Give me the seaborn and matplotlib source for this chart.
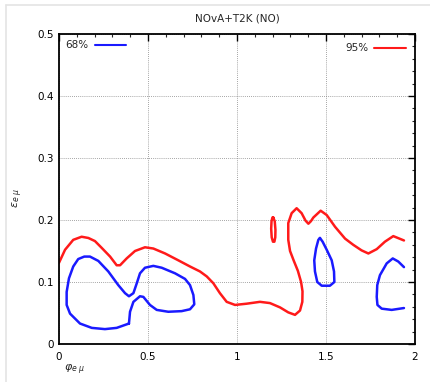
import matplotlib
matplotlib.use("Agg")
import matplotlib.pyplot as plt
import seaborn as sns
import pandas as pd
from matplotlib.lines import Line2D
from matplotlib.ticker import MultipleLocator

# ---- data ----
red_main_x = [0.000, 0.034, 0.080, 0.127, 0.165, 0.202, 0.240, 0.287, 0.324, 0.343, 0.380, 0.427,
              0.483, 0.530, 0.596, 0.670, 0.736, 0.792, 0.830, 0.867, 0.904, 0.942, 0.989, 1.054,
              1.129, 1.185, 1.242, 1.288, 1.326, 1.354, 1.367, 1.368, 1.360, 1.342, 1.318, 1.298,
              1.288, 1.288, 1.307, 1.335, 1.363, 1.385, 1.401, 1.415, 1.429, 1.470, 1.504, 1.551,
              1.607, 1.653, 1.700, 1.738, 1.785, 1.831, 1.878, 1.938]
red_main_y = [0.131, 0.152, 0.168, 0.173, 0.171, 0.166, 0.155, 0.141, 0.127, 0.127, 0.138, 0.150,
              0.156, 0.154, 0.146, 0.135, 0.125, 0.117, 0.109, 0.098, 0.082, 0.068, 0.063, 0.065,
              0.068, 0.066, 0.059, 0.051, 0.047, 0.054, 0.068, 0.085, 0.100, 0.118, 0.135, 0.150,
              0.168, 0.195, 0.211, 0.219, 0.211, 0.199, 0.194, 0.198, 0.204, 0.215, 0.208, 0.189,
              0.170, 0.160, 0.151, 0.146, 0.153, 0.165, 0.174, 0.167]

red_island_x = [1.204, 1.212, 1.216, 1.215, 1.210, 1.202, 1.195, 1.192, 1.194, 1.199, 1.204]
red_island_y = [0.204, 0.198, 0.184, 0.172, 0.165, 0.165, 0.172, 0.186, 0.198, 0.204, 0.204]

blue_left_x = [0.393, 0.399, 0.418, 0.455, 0.474, 0.511, 0.549, 0.614, 0.689, 0.736, 0.760, 0.755,
               0.736, 0.708, 0.652, 0.577, 0.530, 0.483, 0.455, 0.437, 0.418, 0.393, 0.371, 0.333,
               0.277, 0.221, 0.174, 0.142, 0.108, 0.080, 0.056, 0.043, 0.043, 0.062, 0.118, 0.184,
               0.258, 0.324, 0.393]
blue_left_y = [0.033, 0.052, 0.068, 0.077, 0.076, 0.063, 0.055, 0.052, 0.053, 0.056, 0.064, 0.079,
               0.095, 0.105, 0.114, 0.123, 0.126, 0.123, 0.114, 0.098, 0.082, 0.077, 0.082, 0.095,
               0.117, 0.134, 0.141, 0.141, 0.137, 0.125, 0.106, 0.084, 0.063, 0.049, 0.033, 0.026,
               0.024, 0.026, 0.033]

blue_mid_x = [1.466, 1.481, 1.504, 1.532, 1.545, 1.547, 1.522, 1.476, 1.451, 1.438, 1.434, 1.444,
              1.457, 1.466]
blue_mid_y = [0.171, 0.165, 0.152, 0.135, 0.117, 0.100, 0.094, 0.094, 0.100, 0.117, 0.135, 0.154,
              0.168, 0.171]

blue_right_x = [1.938, 1.906, 1.875, 1.841, 1.803, 1.788, 1.785, 1.789, 1.813, 1.869, 1.938]
blue_right_y = [0.124, 0.133, 0.138, 0.130, 0.111, 0.095, 0.076, 0.063, 0.057, 0.055, 0.058]

title = "NOvA+T2K (NO)"
x_ticks = [0, 0.5, 1, 1.5, 2]
x_tick_labels = ["0", "0.5", "1", "1.5", "2"]
y_ticks = [0, 0.1, 0.2, 0.3, 0.4, 0.5]
y_tick_labels = ["0", "0.1", "0.2", "0.3", "0.4", "0.5"]

sns.set_style("white")
plt.rcParams['font.family'] = ['DejaVu Sans']

fig = plt.figure(figsize=(4.3, 3.82), dpi=100)
ax = fig.add_axes([59/430, 1 - 344/382, 356/430, 310/382])

BLUE = "#1a1aff"
RED = "#ff1a1a"
curves = [
    (red_main_x, red_main_y, RED),
    (red_island_x, red_island_y, RED),
    (blue_left_x, blue_left_y, BLUE),
    (blue_mid_x, blue_mid_y, BLUE),
    (blue_right_x, blue_right_y, BLUE),
]
for xs, ys, c in curves:
    df = pd.DataFrame({"x": xs, "y": ys})
    sns.lineplot(data=df, x="x", y="y", sort=False, estimator=None, color=c, lw=1.8,
                 solid_joinstyle="round", solid_capstyle="round", ax=ax)

ax.set_xlim(0, 2)
ax.set_ylim(0, 0.5)
ax.set_xticks(x_ticks)
ax.set_xticklabels(x_tick_labels)
ax.set_yticks(y_ticks)
ax.set_yticklabels(y_tick_labels)
ax.xaxis.set_minor_locator(MultipleLocator(0.1))
ax.yaxis.set_minor_locator(MultipleLocator(0.02))
ax.tick_params(which="major", direction="in", length=5, width=1, top=True, right=True,
               labelsize=7.5, colors="black", pad=4)
ax.tick_params(which="minor", direction="in", length=2.5, width=0.8, top=True, right=True)
ax.tick_params(axis="x", which="major", pad=6)
ax.grid(True, which="major", color="#888888", linestyle=(0, (1, 1.5)), lw=0.6)
for s in ax.spines.values():
    s.set_visible(True)
    s.set_color("black")
    s.set_linewidth(1.3)

ax.set_xlabel(r"$\varphi_{e\ \mu}$", fontsize=8)
ax.xaxis.set_label_coords(0.045, -0.06)
ax.set_ylabel(r"$\varepsilon_{e\ \mu}$", fontsize=8)
ax.yaxis.set_label_coords(-0.095, 0.47)
ax.set_title(title, fontsize=7.5, pad=9)

h68 = [Line2D([], [], color=BLUE, lw=1.5)]
leg1 = ax.legend(h68, ["68%"], loc="upper left", markerfirst=False, frameon=False,
                 fontsize=7.5, handlelength=3.0, borderaxespad=0.2, handletextpad=0.6)
ax.add_artist(leg1)
h95 = [Line2D([], [], color=RED, lw=1.5)]
ax.legend(h95, ["95%"], loc="upper right", markerfirst=False, frameon=False,
          fontsize=7.5, handlelength=3.0, borderaxespad=0.5, handletextpad=0.6)

# faint page frame
fig.add_artist(Line2D([6/430, 6/430], [0, 1 - 5/382], color="#e4e4e4", lw=1.2,
                      transform=fig.transFigure))
fig.add_artist(Line2D([6/430, 1], [1 - 5/382, 1 - 5/382], color="#e4e4e4", lw=1.2,
                      transform=fig.transFigure))

fig.savefig("out.png", dpi=100)
